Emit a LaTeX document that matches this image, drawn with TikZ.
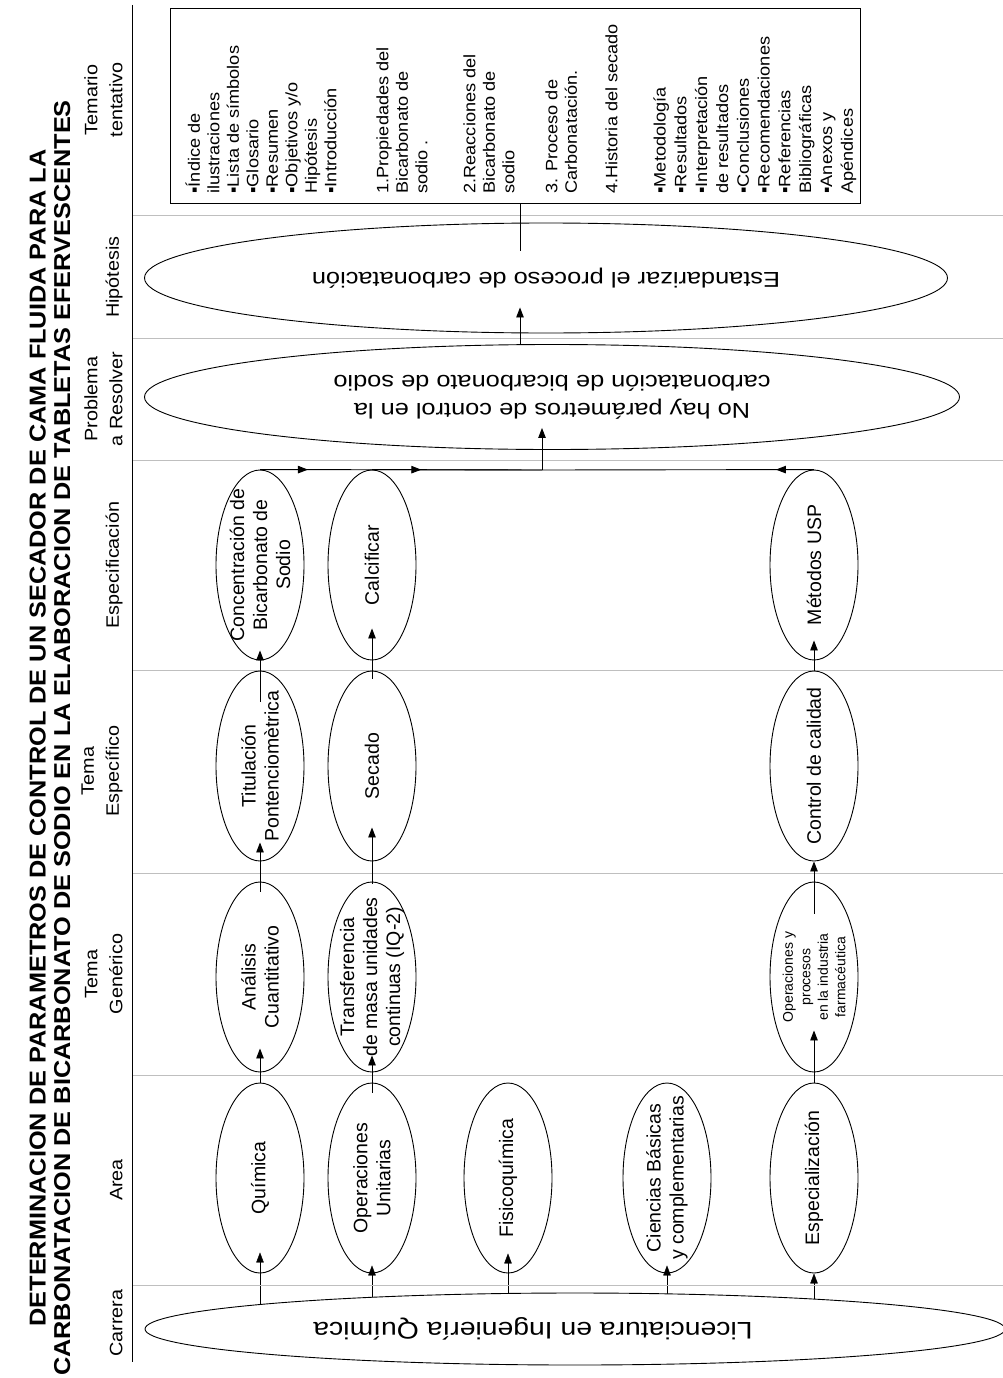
\documentclass[tikz,border=0pt]{standalone}
\usepackage{fontspec}
\setmainfont{Liberation Sans}
\newfontfamily\tallfont[FakeStretch=1.1]{Liberation Sans}
\newfontfamily\wideflat[FakeStretch=1.18]{Liberation Sans}
\usetikzlibrary{arrows.meta,shapes.geometric,calc,backgrounds,decorations.markings}

\tikzset{
  oval/.style={ellipse,draw,rotate=90,minimum width=190pt,minimum height=88pt,inner xsep=-60pt,inner ysep=-30pt,align=center,font=\fontsize{19.5}{23}\selectfont},
  flatoval/.style={ellipse,draw,rotate=180,inner sep=0pt,align=center},
  header/.style={rotate=90,anchor=south,inner sep=0pt,align=center,font=\tallfont\fontsize{18}{25}\selectfont},
  boxtext/.style={rotate=90,anchor=north west,inner sep=0pt,align=left,font=\tallfont\fontsize{16.5}{19.5}\selectfont},
  sepline/.style={draw=black!25,line width=1pt},
  midarrow/.style={postaction={decorate},decoration={markings,mark=at position #1 with {\arrow{>}}}}
}

\begin{document}
\begin{tikzpicture}[x=1pt,y=-1pt,>={Triangle[length=10pt,width=7.5pt]},line width=0.9pt]
\useasboundingbox (0,0) rectangle (1003,1378);

% column separators and frame
\foreach \y in {215,338,460,670,873,1075,1285}
  \draw[sepline] (132,\y) -- (1003,\y);
\draw (132,5) -- (132,1362);

% title
\node[rotate=90,align=center,inner sep=0pt,font=\tallfont\bfseries\fontsize{23}{24.5}\selectfont] (title) at (50,738)
  {DETERMINACION DE PARAMETROS DE CONTROL DE UN SECADOR DE CAMA FLUIDA PARA LA\\CARBONATACION DE BICARBONATO DE SODIO EN LA ELABORACION DE TABLETAS EFERVESCENTES};

% column headers
\node[header] (hcar) at (123,1323) {Carrera};
\node[header] (hare) at (123,1180) {Area};
\node[header] (hgen) at (123,974) {Tema\\Genérico};
\node[header] (hesp) at (123,771) {Tema\\Específico};
\node[header] (hspc) at (123,565) {Especificación};
\node[header] (hprb) at (123,399) {Problema\\a Resolver};
\node[header] (hhip) at (123,277) {Hipótesis};
\node[header] (htem) at (123,100) {Temario\\tentativo};

% carrera
\node[flatoval,fill=white,minimum width=860pt,minimum height=72pt,font=\wideflat\fontsize{24}{28}\selectfont] (lic) at (575,1329)
  {\hspace*{84pt}Licenciatura en Ingeniería Química};

% area
\node[oval] (quim) at (260,1178) {Química};
\node[oval] (opun) at (372,1178) {Operaciones\\Unitarias};
\node[oval] (fisq) at (508,1178) {Fisicoquímica};
\node[oval] (cien) at (667,1178) {Ciencias Básicas\\y complementarias};
\node[oval] (espz) at (814,1178) {Especialización};

% tema generico
\node[oval] (anal) at (260,977) {Análisis\\Cuantitativo};
\node[oval] (trans) at (372,977) {Transferencia\\de masa unidades\\continuas (IQ-2)};
\node[oval,font=\fontsize{14}{17.5}\selectfont] (oppr) at (814,977) {Operaciones y\\procesos\\en la industria\\farmacéutica};

% tema especifico
\node[oval] (titu) at (260,766) {Titulación\\Pontenciomètrica};
\node[oval] (seca) at (372,766) {Secado};
\node[oval] (ctrl) at (814,766) {Control de calidad};

% especificacion
\node[oval] (conc) at (260,565) {Concentración de\\Bicarbonato de\\Sodio};
\node[oval] (calc) at (372,565) {Calcificar};
\node[oval] (usp) at (814,565) {Métodos USP};

% problema, hipotesis
\node[flatoval,minimum width=815pt,minimum height=105pt,font=\wideflat\fontsize{21.5}{28}\selectfont] (prob) at (552,397)
  {No hay parámetros de control en la\\carbonatación de bicarbonato de sodio};
\node[flatoval,minimum width=803pt,minimum height=110pt,font=\wideflat\fontsize{21.5}{26}\selectfont] (hip) at (546,278)
  {Estandarizar el proceso de carbonatación};

% temario
\node[draw,minimum width=690pt,minimum height=195pt,inner sep=0pt] (temario) at (515,105.5) {};
\node[boxtext] (tm1) at (185,194) {▪Índice de\\ilustraciones\\▪Lista de símbolos\\▪Glosario\\▪Resumen\\▪Objetivos y/o\\Hipótesis\\▪Introducción};
\node[boxtext] (tm2) at (376,194) {1.Propiedades del\\Bicarbonato de\\sodio .};
\node[boxtext] (tm3) at (463,194) {2.Reacciones del\\Bicarbonato de\\sodio};
\node[boxtext] (tm4) at (545,194) {3. Proceso de\\Carbonatación.};
\node[boxtext] (tm5) at (605,194) {4.Historia del secado};
\node[boxtext,font=\tallfont\fontsize{16.5}{20.8}\selectfont] (tm6) at (653,194) {▪Metodología\\▪Resultados\\▪Interpretación\\de resultados\\▪Conclusiones\\▪Recomendaciones\\▪Referencias\\Bibliográficas\\▪Anexos y\\Apéndices};

% connectors
\begin{scope}[on background layer]
\foreach \a/\e in {quim/21,opun/8,fisq/20,cien/8,espz/0}
  \draw[->] (\a.west |- lic.center) -- ($(\a.west)+(0,-\e)$);
\end{scope}
\foreach \a/\b/\s/\e in {quim/anal/0/24,opun/trans/10/17,espz/oppr/0/42,
    anal/titu/10/19,trans/seca/2/34,oppr/ctrl/32/0,
    titu/conc/31/10,seca/calc/8/32,ctrl/usp/0/20}
  \draw[->] ($(\a.east)+(0,\s)$) -- ($(\b.west)+(0,-\e)$);

\coordinate (hub) at (542,470);
\coordinate (axis) at (520,0);
\draw[midarrow=0.17] (conc.east) -- (hub);
\draw[midarrow=0.29] (calc.east) -- (hub);
\draw[midarrow=0.14] (usp.east) -- (hub);
\draw[->] (hub) -- ($(hub |- prob.north)+(0,-22)$);
\draw[->] (prob.south -| axis) -- ($(hip.north -| axis)+(0,-26)$);
\draw ($(hip.south -| axis)+(0,28)$) -- (temario.south -| axis);
\end{tikzpicture}
\end{document}
